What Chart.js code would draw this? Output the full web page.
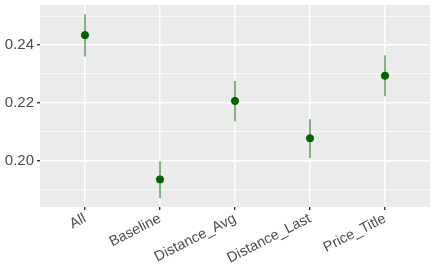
<!DOCTYPE html>
<html>
<head>
<meta charset="utf-8">
<script src="https://cdn.jsdelivr.net/npm/chart.js@4"></script>
<style>
  html, body { margin: 0; padding: 0; background: #ffffff; }
  #wrap { width: 436px; height: 273px; }
</style>
</head>
<body>
<div id="wrap"><canvas id="grafico" width="436" height="273"></canvas></div>
<script>
const categorias = ["All", "Baseline", "Distance_Avg", "Distance_Last", "Price_Title"];
const estimativas = [0.2434, 0.1936, 0.2207, 0.2078, 0.2294];
const inferior = [0.2360, 0.1872, 0.2136, 0.2010, 0.2223];
const superior = [0.2506, 0.1999, 0.2276, 0.2144, 0.2365];
const yTicks = [0.19, 0.20, 0.21, 0.22, 0.23, 0.24, 0.25];
const yMajor = [0.20, 0.22, 0.24];

const ehMajor = v => yMajor.some(m => Math.abs(m - v) < 1e-6);

const fundoPainel = {
  id: "fundoPainel",
  beforeDraw(chart) {
    const { ctx, chartArea: a } = chart;
    ctx.save();
    ctx.fillStyle = "#EBEBEB";
    ctx.fillRect(a.left, a.top, a.right - a.left, a.bottom - a.top);
    ctx.restore();
  }
};

const barrasErro = {
  id: "barrasErro",
  beforeDatasetsDraw(chart) {
    const { ctx } = chart;
    const x = chart.scales.x;
    const y = chart.scales.y;
    ctx.save();
    ctx.strokeStyle = "rgba(0,100,0,0.6)";
    ctx.lineWidth = 1.6;
    categorias.forEach((c, i) => {
      const px = x.getPixelForValue(i + 1);
      ctx.beginPath();
      ctx.moveTo(px, y.getPixelForValue(inferior[i]));
      ctx.lineTo(px, y.getPixelForValue(superior[i]));
      ctx.stroke();
    });
    ctx.restore();
  }
};

const fonteY = { family: "'Liberation Sans', Arial, sans-serif", size: 15 };
const fonteX = { family: "'Liberation Sans', Arial, sans-serif", size: 14.5 };

new Chart(document.getElementById("grafico"), {
  type: "scatter",
  data: {
    datasets: [
      {
        label: "Estimativa",
        data: estimativas.map((v, i) => ({ x: i + 1, y: v })),
        backgroundColor: "#006400",
        borderColor: "#006400",
        pointRadius: 3.6,
        pointHoverRadius: 3.6
      }
    ]
  },
  options: {
    responsive: false,
    animation: false,
    layout: { padding: { top: 5, right: 6, left: 0, bottom: 0 } },
    plugins: {
      legend: { display: false },
      tooltip: { enabled: false }
    },
    scales: {
      x: {
        type: "linear",
        min: 0.4,
        max: 5.6,
        afterBuildTicks(scale) {
          scale.ticks = categorias.map((c, i) => ({ value: i + 1 }));
        },
        afterFit(scale) {
          scale.height = 66;
          scale.paddingLeft = 0;
          scale.paddingRight = 0;
        },
        border: { display: false },
        grid: {
          color: "#FFFFFF",
          lineWidth: 1.4,
          tickColor: "#333333",
          tickLength: 3,
          drawTicks: true
        },
        ticks: {
          autoSkip: false,
          minRotation: 27,
          maxRotation: 27,
          padding: 0,
          color: "#4D4D4D",
          font: fonteX,
          callback: v => categorias[Math.round(v) - 1]
        }
      },
      y: {
        min: 0.1841,
        max: 0.2538,
        afterBuildTicks(scale) {
          scale.ticks = yTicks.map(v => ({ value: v }));
        },
        afterFit(scale) {
          scale.width = 40;
          scale.paddingTop = 0;
          scale.paddingBottom = 0;
        },
        border: { display: false },
        grid: {
          color: "#FFFFFF",
          lineWidth: ctx => (ehMajor(ctx.tick.value) ? 1.4 : 0.7),
          tickColor: ctx => (ehMajor(ctx.tick.value) ? "#333333" : "rgba(0,0,0,0)"),
          tickLength: 3,
          drawTicks: true
        },
        ticks: {
          autoSkip: false,
          padding: 3,
          color: "#4D4D4D",
          font: fonteY,
          callback: v => (ehMajor(v) ? v.toFixed(2) : "")
        }
      }
    }
  },
  plugins: [fundoPainel, barrasErro]
});
</script>
</body>
</html>
